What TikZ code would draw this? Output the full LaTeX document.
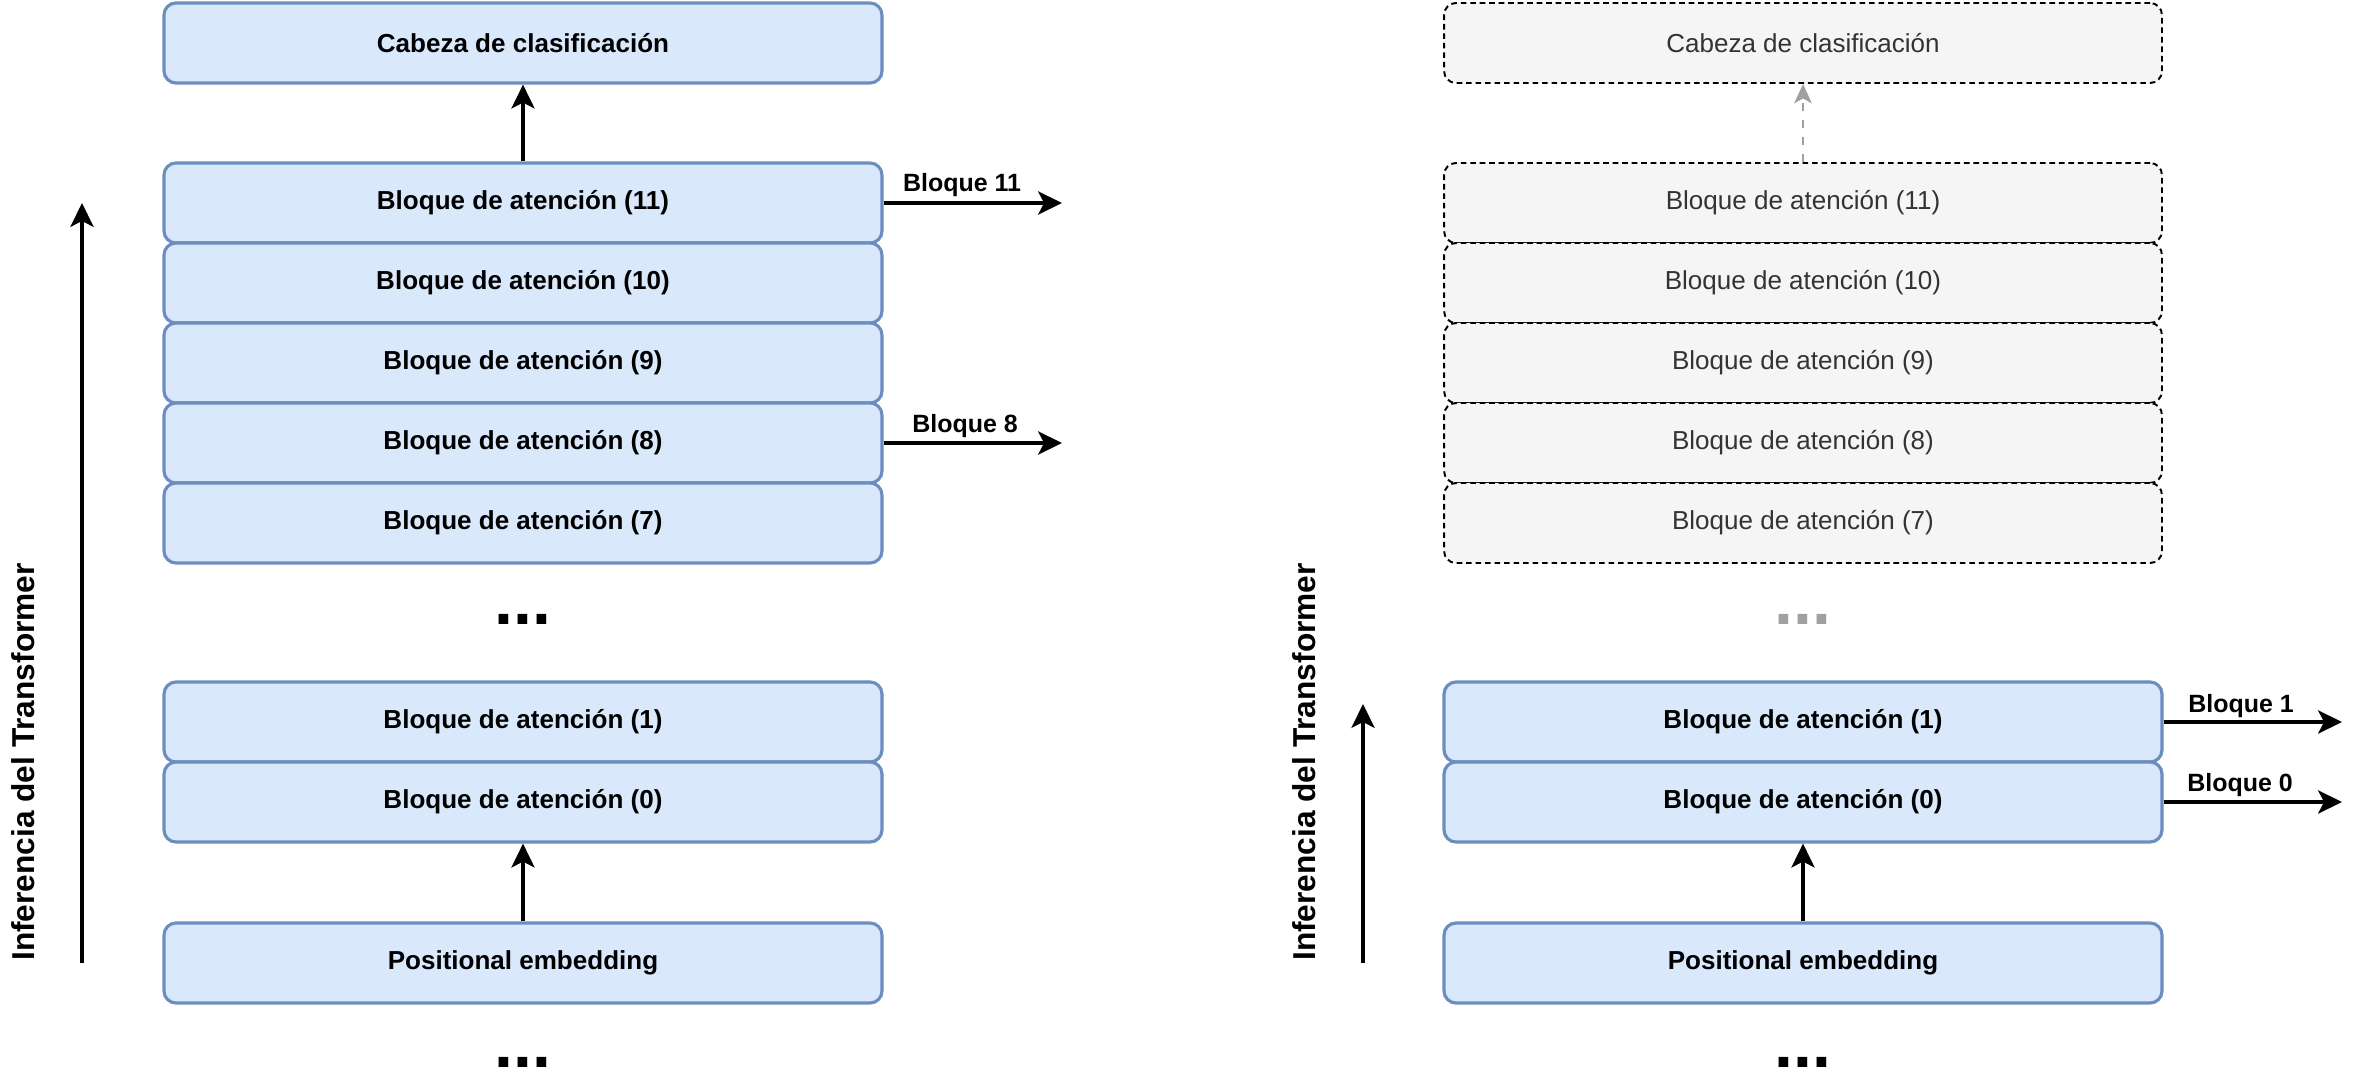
\documentclass[tikz,border=0pt]{standalone}
\usepackage{fontspec}
\setmainfont{Liberation Sans}
\usetikzlibrary{arrows.meta}
\definecolor{bloquefill}{HTML}{DAE8FC}
\definecolor{bloqueline}{HTML}{6C8EBF}
\definecolor{apagadofill}{HTML}{F5F5F5}
\definecolor{apagadotext}{HTML}{333333}
\definecolor{apagadoline}{HTML}{A0A0A0}

\begin{document}
\begin{tikzpicture}[x=0.01cm, y=-0.01cm,
    bloque/.style={draw=bloqueline, fill=bloquefill, line width=0.9pt, rounded corners=3.4pt, minimum width=7.175cm, minimum height=0.8cm, inner sep=0pt, font=\fontsize{7.4}{9}\selectfont\bfseries},
    apagado/.style={draw=black, fill=apagadofill, line width=0.55pt, dash pattern=on 1.6pt off 1.1pt, rounded corners=3.4pt, minimum width=7.175cm, minimum height=0.8cm, inner sep=0pt, text=apagadotext, font=\fontsize{7.4}{9}\selectfont},
    flecha/.style={line width=0.9pt, -{Stealth[length=6.8pt, width=6.6pt, inset=1.7pt]}},
    salida/.style={font=\fontsize{7.1}{9}\selectfont\bfseries, anchor=base, inner sep=0pt},
    puntos/.style={font=\fontsize{19.3}{20}\selectfont\bfseries, inner sep=0pt},
    eje/.style={font=\fontsize{9}{10}\selectfont\bfseries, rotate=90, inner sep=0pt}]
    \useasboundingbox (0,0) rectangle (2360,1082);

    % columna izquierda
    \node [bloque] (lcab) at (523,43) {Cabeza de clasificación};
    \node [bloque] (l11) at (523,203) {Bloque de atención (11)};
    \node [bloque] (l10) at (523,283) {Bloque de atención (10)};
    \node [bloque] (l9) at (523,363) {Bloque de atención (9)};
    \node [bloque] (l8) at (523,443) {Bloque de atención (8)};
    \node [bloque] (l7) at (523,523) {Bloque de atención (7)};
    \node [puntos] (lpuntos) at (523,619) {...};
    \node [bloque] (l1) at (523,722) {Bloque de atención (1)};
    \node [bloque] (l0) at (523,802) {Bloque de atención (0)};
    \node [bloque] (lpos) at (523,963) {Positional embedding};
    \node [puntos] (lfin) at (523,1062) {...};
    \draw [flecha] (l11) -- (lcab) ;
    \draw [flecha] (lpos) -- (l0) ;

    \coordinate (ls11) at (1062,203) ;
    \coordinate (ls8) at (1062,443) ;
    \draw [flecha] (l11.east) -- (ls11) ;
    \draw [flecha] (l8.east) -- (ls8) ;
    \node [salida] (lt11) at (962,192) {Bloque 11};
    \node [salida] (lt8) at (965,432) {Bloque 8};

    \coordinate (lini) at (82,963) ;
    \coordinate (ltope) at (82,203) ;
    \draw [flecha] (lini) -- (ltope) ;
    \node [eje] (leje) at (23,762) {Inferencia del Transformer};

    % columna derecha
    \node [apagado] (rcab) at (1803,43) {Cabeza de clasificación};
    \node [apagado] (r11) at (1803,203) {Bloque de atención (11)};
    \node [apagado] (r10) at (1803,283) {Bloque de atención (10)};
    \node [apagado] (r9) at (1803,363) {Bloque de atención (9)};
    \node [apagado] (r8) at (1803,443) {Bloque de atención (8)};
    \node [apagado] (r7) at (1803,523) {Bloque de atención (7)};
    \node [puntos, text=apagadoline] (rpuntos) at (1803,619) {...};
    \node [bloque] (r1) at (1803,722) {Bloque de atención (1)};
    \node [bloque] (r0) at (1803,802) {Bloque de atención (0)};
    \node [bloque] (rpos) at (1803,963) {Positional embedding};
    \node [puntos] (rfin) at (1803,1062) {...};
    \draw [apagadoline, line width=0.55pt, dash pattern=on 2.4pt off 2.4pt, -{Stealth[length=5.5pt, width=5pt, inset=1.4pt]}] (r11) -- (rcab) ;
    \draw [flecha] (rpos) -- (r0) ;

    \coordinate (rs1) at (2342,722) ;
    \coordinate (rs0) at (2342,802) ;
    \draw [flecha] (r1.east) -- (rs1) ;
    \draw [flecha] (r0.east) -- (rs0) ;
    \node [salida] (rt1) at (2241,712) {Bloque 1};
    \node [salida] (rt0) at (2240,791) {Bloque 0};

    \coordinate (rini) at (1363,963) ;
    \coordinate (rtope) at (1363,704) ;
    \draw [flecha] (rini) -- (rtope) ;
    \node [eje] (reje) at (1304,762) {Inferencia del Transformer};
\end{tikzpicture}
\end{document}
